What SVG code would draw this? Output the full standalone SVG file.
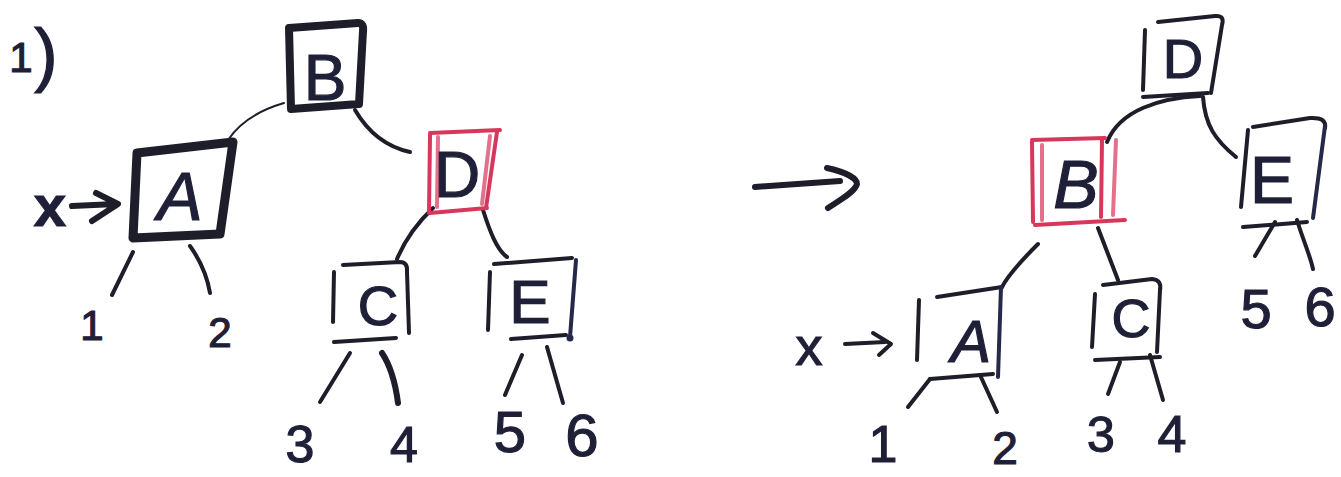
<svg xmlns="http://www.w3.org/2000/svg" width="1341" height="477" viewBox="0 0 1341 477">
<style>
  .ink{fill:none;stroke:#1e1e2a;stroke-linecap:round;stroke-linejoin:round}
  .navy{fill:none;stroke:#26284a;stroke-linecap:round;stroke-linejoin:round}
  .red{fill:none;stroke:#d8375c;stroke-linecap:round;stroke-linejoin:round}
  .pink{fill:none;stroke:#e4708b;stroke-linecap:round;stroke-linejoin:round}
  .t{font-family:"Liberation Sans","DejaVu Sans",sans-serif;fill:#1f2038;text-anchor:middle;stroke:#1f2038;stroke-width:1.2}
</style>
<rect width="1341" height="477" fill="#ffffff"/>

<g id="label-step">
  <text class="t" x="21" y="72" font-size="42">1</text>
  <text class="t" x="46" y="78" font-size="70">)</text>
</g>

<g id="connectors">
  <path class="ink" stroke-width="2" d="M284,103 C260,110 240,122 228,140"/>
  <path class="ink" stroke-width="4" d="M355,110 C365,127 382,146 410,152"/>
  <path class="ink" stroke-width="4" d="M133,252 L112,295"/>
  <path class="ink" stroke-width="4" d="M190,246 C200,260 207,275 210,293"/>
  <path class="ink" stroke-width="4" d="M433,208 C415,225 405,240 397,259"/>
  <path class="ink" stroke-width="4" d="M483,210 C490,232 497,250 507,257"/>
  <path class="ink" stroke-width="4" d="M350,353 L320,402"/>
  <path class="ink" stroke-width="6" d="M382,353 C390,365 395,380 398,403"/>
  <path class="ink" stroke-width="4" d="M522,355 L505,395"/>
  <path class="ink" stroke-width="4" d="M547,347 L563,403"/>
  <path class="ink" stroke-width="6" d="M72,206 L116,204 M96,193 L118,204 L92,221"/>
  <path class="ink" stroke-width="6" d="M755,187 L840,181 M827,168 C845,172 857,178 857,184 C855,192 840,200 828,208"/>
  <path class="ink" stroke-width="4" d="M1200,96 C1160,98 1120,110 1107,142"/>
  <path class="ink" stroke-width="4" d="M1203,97 C1205,125 1215,140 1236,157"/>
  <path class="ink" stroke-width="4" d="M1098,228 L1118,280"/>
  <path class="ink" stroke-width="4" d="M1038,244 C1020,262 1008,275 1002,287"/>
  <path class="ink" stroke-width="4" d="M908,407 L930,379"/>
  <path class="ink" stroke-width="4" d="M980,375 L997,412"/>
  <path class="ink" stroke-width="4" d="M1120,362 L1108,394"/>
  <path class="ink" stroke-width="4" d="M1150,355 L1163,400"/>
  <path class="ink" stroke-width="4" d="M1275,222 L1255,256"/>
  <path class="ink" stroke-width="4" d="M1297,220 C1303,240 1310,255 1313,269"/>
  <path class="ink" stroke-width="4" d="M845,344 L885,342 M873,333 L891,344 L879,355"/>
</g>

<g id="node-B-left">
  <path class="ink" stroke-width="8" d="M289,28 L358,23 Q364,23 363,31 L359,104 L291,109 Z"/>
  <text class="t" x="325" y="100" font-size="64">B</text>
</g>
<g id="node-A-left">
  <path class="ink" stroke-width="9" d="M137,153 L233,142 L220,234 L133,238 Z"/>
  <text class="t" x="180" y="220" font-size="68" font-style="italic">A</text>
</g>
<g id="pointer-x-left">
  <text class="t" x="50" y="226" font-size="58" font-weight="bold">x</text>
</g>
<g id="node-D-left">
  <path class="red" stroke-width="4" d="M430,133 L500,130 M430,213 L487,208"/>
  <path class="red" stroke-width="4" d="M430,135 L429,213 M497,132 L486,208"/>
  <path class="pink" stroke-width="4" d="M438,137 L437,207 M490,136 L482,204"/>
  <text class="t" x="457" y="197" font-size="64">D</text>
</g>
<g id="node-C-left">
  <path class="ink" stroke-width="4" d="M334,272 L333,322 M343,265 L400,262 Q408,262 407,272 L409,333 M334,342 L396,338"/>
  <text class="t" x="378" y="325" font-size="56">C</text>
</g>
<g id="node-E-left">
  <path class="ink" stroke-width="4" d="M490,272 L488,330 M494,264 L572,258 M511,339 L566,335"/>
  <path class="navy" stroke-width="4" d="M576,260 L570,337"/>
  <circle cx="570" cy="338" r="3.5" fill="#26284a"/>
  <text class="t" x="530" y="323" font-size="62">E</text>
</g>
<g id="leaf-1-left"><text class="t" x="92" y="340" font-size="42">1</text></g>
<g id="leaf-2-left"><text class="t" x="220" y="347" font-size="42">2</text></g>
<g id="leaf-3-left"><text class="t" x="300" y="462" font-size="52">3</text></g>
<g id="leaf-4-left"><text class="t" x="404" y="462" font-size="50">4</text></g>
<g id="leaf-5-left"><text class="t" x="510" y="452" font-size="58">5</text></g>
<g id="leaf-6-left"><text class="t" x="582" y="456" font-size="60">6</text></g>

<g id="node-D-right">
  <path class="ink" stroke-width="4" d="M1145,30 L1143,90 M1158,22 L1215,16 Q1225,15 1222,25 L1211,93 M1143,97 L1208,93"/>
  <text class="t" x="1183" y="78" font-size="56">D</text>
</g>
<g id="node-B-right">
  <path class="red" stroke-width="4" d="M1032,140 L1105,138 M1035,225 L1125,220"/>
  <path class="red" stroke-width="4" d="M1032,142 L1033,222 M1102,140 L1101,217"/>
  <path class="pink" stroke-width="4" d="M1042,145 L1042,220 M1116,140 L1113,215"/>
  <text class="t" x="1076" y="208" font-size="68" font-style="italic">B</text>
</g>
<g id="node-E-right">
  <path class="ink" stroke-width="4" d="M1248,130 L1241,207 M1253,127 L1310,118 Q1327,117 1325,128 M1243,227 L1307,222"/>
  <path class="navy" stroke-width="4" d="M1325,126 L1313,218"/>
  <text class="t" x="1272" y="203" font-size="66">E</text>
</g>
<g id="node-A-right">
  <path class="ink" stroke-width="4" d="M919,300 L917,360 M937,297 L1002,287 M930,379 L993,374"/>
  <path class="navy" stroke-width="4" d="M1001,287 L998,377"/>
  <text class="t" x="971" y="362" font-size="60" font-style="italic">A</text>
</g>
<g id="pointer-x-right">
  <text class="t" x="809" y="365" font-size="54">x</text>
</g>
<g id="node-C-right">
  <path class="ink" stroke-width="4" d="M1095,294 L1092,347 M1103,285 L1152,279 Q1162,280 1160,290 L1157,352 M1095,360 L1160,357"/>
  <text class="t" x="1131" y="337" font-size="54">C</text>
</g>
<g id="leaf-1-right"><text class="t" x="883" y="462" font-size="52">1</text></g>
<g id="leaf-2-right"><text class="t" x="1005" y="464" font-size="46">2</text></g>
<g id="leaf-3-right"><text class="t" x="1101" y="452" font-size="50">3</text></g>
<g id="leaf-4-right"><text class="t" x="1172" y="452" font-size="52">4</text></g>
<g id="leaf-5-right"><text class="t" x="1256" y="328" font-size="56">5</text></g>
<g id="leaf-6-right"><text class="t" x="1320" y="326" font-size="56">6</text></g>
</svg>
